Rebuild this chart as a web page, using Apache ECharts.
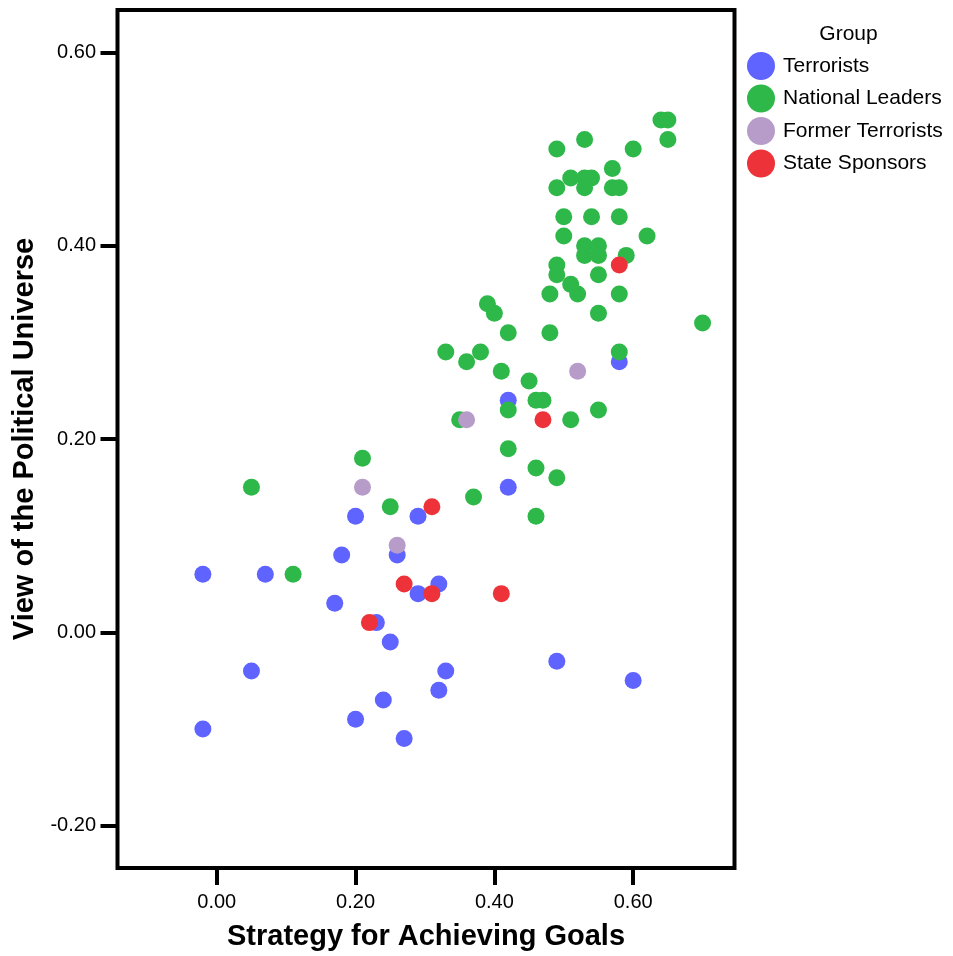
<!DOCTYPE html>
<html>
<head>
<meta charset="utf-8">
<script src="https://cdn.jsdelivr.net/npm/echarts@6/dist/echarts.min.js"></script>
<style>html,body{margin:0;padding:0;background:#fff}#c{width:953px;height:956px}</style>
</head>
<body>
<div id="c"></div>
<script>
var groupNames = ['Terrorists', 'National Leaders', 'Former Terrorists', 'State Sponsors'];
var groupColors = ['#5F63FF', '#2FB84A', '#B79CC9', '#EE3239'];
var xTicks = [0, 0.2, 0.4, 0.6];
var yTicks = [-0.2, 0, 0.2, 0.4, 0.6];

var terrorists = [[-0.02,0.06],[-0.02,-0.10],[0.05,-0.04],[0.07,0.06],[0.17,0.03],[0.18,0.08],[0.20,0.12],[0.20,-0.09],[0.23,0.01],[0.24,-0.07],[0.25,-0.01],[0.26,0.08],[0.27,-0.11],[0.29,0.12],[0.29,0.04],[0.32,0.05],[0.32,-0.06],[0.33,-0.04],[0.42,0.24],[0.42,0.15],[0.49,-0.03],[0.58,0.28],[0.60,-0.05]];
var nationalLeaders = [[0.05,0.15],[0.11,0.06],[0.21,0.18],[0.25,0.13],[0.33,0.29],[0.35,0.22],[0.36,0.28],[0.37,0.14],[0.38,0.29],[0.39,0.34],[0.40,0.33],[0.41,0.27],[0.42,0.31],[0.42,0.23],[0.42,0.19],[0.45,0.26],[0.46,0.24],[0.47,0.24],[0.46,0.17],[0.46,0.12],[0.48,0.35],[0.48,0.31],[0.49,0.16],[0.49,0.37],[0.49,0.38],[0.49,0.46],[0.49,0.50],[0.50,0.43],[0.50,0.41],[0.51,0.47],[0.51,0.36],[0.51,0.22],[0.52,0.35],[0.53,0.51],[0.53,0.47],[0.53,0.46],[0.53,0.40],[0.53,0.39],[0.54,0.47],[0.54,0.43],[0.55,0.40],[0.55,0.39],[0.55,0.37],[0.55,0.33],[0.55,0.23],[0.57,0.48],[0.57,0.46],[0.58,0.46],[0.58,0.43],[0.58,0.35],[0.58,0.29],[0.59,0.39],[0.60,0.50],[0.62,0.41],[0.64,0.53],[0.65,0.53],[0.65,0.51],[0.70,0.32]];
var formerTerrorists = [[0.21,0.15],[0.26,0.09],[0.36,0.22],[0.52,0.27]];
var stateSponsors = [[0.22,0.01],[0.27,0.05],[0.31,0.13],[0.31,0.04],[0.41,0.04],[0.47,0.22],[0.58,0.38]];

var groupData = [terrorists, nationalLeaders, formerTerrorists, stateSponsors];
var FONT = '"Liberation Sans", Arial, sans-serif';

var chart = echarts.init(document.getElementById('c'), null, {renderer: 'canvas'});
var option = {
  backgroundColor: '#fff',
  animation: false,
  title: {
    text: 'Group', left: 843.5, top: 19, textAlign: 'center',
    textStyle: {fontFamily: FONT, fontSize: 21, fontWeight: 'normal', color: '#000'}
  },
  legend: {
    orient: 'vertical', left: 742, top: 47, itemWidth: 28, itemHeight: 28, itemGap: 4.5,
    icon: 'circle', data: groupNames,
    textStyle: {fontFamily: FONT, fontSize: 21, color: '#000', padding: [0,0,0,3]}
  },
  grid: {
    left: 117.5, right: 218.5, top: 10, bottom: 86.5, show: true,
    borderColor: '#000', borderWidth: 4, backgroundColor: 'transparent'
  },
  xAxis: {
    type: 'value', min: -0.143, max: 0.746,
    name: 'Strategy for Achieving Goals', nameLocation: 'middle', nameGap: 54,
    nameTextStyle: {fontFamily: FONT, fontSize: 29, fontWeight: 'bold', color: '#000'},
    splitLine: {show: false},
    axisLine: {show: false, onZero: false},
    axisTick: {show: true, customValues: xTicks, length: 17, lineStyle: {color: '#000', width: 4}},
    axisLabel: {customValues: xTicks, margin: 24, fontFamily: FONT, fontSize: 20, color: '#000',
      formatter: function (v) { return v.toFixed(2); }}
  },
  yAxis: {
    type: 'value', min: -0.2439, max: 0.6439,
    name: 'View of the Political Universe', nameLocation: 'middle', nameGap: 78,
    nameTextStyle: {fontFamily: FONT, fontSize: 29, fontWeight: 'bold', color: '#000'},
    splitLine: {show: false},
    axisLine: {show: false, onZero: false},
    axisTick: {show: true, customValues: yTicks, length: 17, lineStyle: {color: '#000', width: 4}},
    axisLabel: {customValues: yTicks, margin: 21.5, fontFamily: FONT, fontSize: 20, color: '#000',
      formatter: function (v) { return v.toFixed(2); }}
  },
  series: groupNames.map(function (name, i) {
    return {
      name: name, type: 'scatter', data: groupData[i], symbolSize: 17,
      itemStyle: {color: groupColors[i], opacity: 1}
    };
  })
};
chart.setOption(option);
</script>
</body>
</html>
